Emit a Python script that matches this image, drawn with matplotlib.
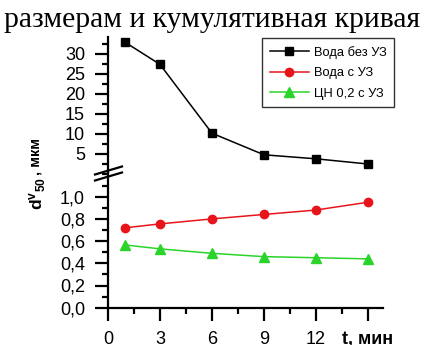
import matplotlib
matplotlib.use("Agg")
import matplotlib.pyplot as plt
from matplotlib.ticker import MultipleLocator, FuncFormatter
from matplotlib.lines import Line2D

plt.rcParams['font.family'] = ['Liberation Sans', 'DejaVu Sans']
plt.rcParams['mathtext.fontset'] = 'custom'
plt.rcParams['mathtext.rm'] = 'Liberation Sans'
plt.rcParams['mathtext.bf'] = 'Liberation Sans:bold'
plt.rcParams['mathtext.it'] = 'Liberation Sans:italic'

title = "размерам и кумулятивная кривая"
t = [1, 3, 6, 9, 12, 15]
water_no_us = [32.9, 27.4, 10.2, 4.8, 3.8, 2.5]
water_us = [0.72, 0.755, 0.80, 0.84, 0.88, 0.95]
cn_us = [0.565, 0.53, 0.49, 0.46, 0.45, 0.44]
labels = ["Вода без УЗ", "Вода с УЗ", "ЦН 0,2 с УЗ"]
xticks = [0, 3, 6, 9, 12, 15]
xticklabels = ["0", "3", "6", "9", "12", "t, мин"]

W, H = 425, 345
fig = plt.figure(figsize=(W / 100, H / 100), dpi=100)

def fx(px):
    return px / W

def fy(py):
    return 1 - py / H

left, right = fx(108), fx(383)
y_break = 173.5
ax_lo = fig.add_axes([left, fy(307.7), right - left, fy(y_break) - fy(307.7)])
ax_hi = fig.add_axes([left, fy(y_break), right - left, fy(37) - fy(y_break)])

black = '#000000'
red = '#e8141c'
green = '#2ad42a'
lw = 1.1
ms = 6

ax_hi.plot(t, water_no_us, '-s', color=black, lw=lw, ms=ms, label=labels[0])
ax_lo.plot(t, water_us, '-o', color=red, lw=lw, ms=ms, label=labels[1])
ax_lo.plot(t, cn_us, '-^', color=green, lw=lw, ms=ms + 0.5, label=labels[2])

xlim = (0, 15.87)
for ax in (ax_lo, ax_hi):
    ax.set_xlim(*xlim)
    for s in ('top', 'right'):
        ax.spines[s].set_visible(False)
    ax.spines['left'].set_linewidth(1.6)
    ax.spines['bottom'].set_linewidth(1.6)
    ax.tick_params(axis='both', which='major', length=9.5, width=1.6,
                   labelsize=13, pad=7, direction='out')
    ax.tick_params(axis='both', which='minor', length=4.5, width=1.6,
                   direction='out')
    ax.patch.set_alpha(0)

ax_hi.spines['bottom'].set_visible(False)
ax_hi.tick_params(axis='x', which='both', bottom=False, labelbottom=False)
ax_hi.set_ylim((174 - y_break) / 4.0, 34.25)
ax_hi.yaxis.set_minor_locator(MultipleLocator(2.5))
ax_hi.set_yticks([5, 10, 15, 20, 25, 30])

ax_lo.set_ylim(0, (307.7 - y_break) / 111.0)
ax_lo.set_yticks([0.0, 0.2, 0.4, 0.6, 0.8, 1.0])
ax_lo.yaxis.set_minor_locator(MultipleLocator(0.1))
ax_lo.yaxis.set_major_formatter(FuncFormatter(lambda v, p: f"{v:.1f}".replace('.', ',')))
ax_lo.set_xticks(xticks)
ax_lo.set_xticklabels(xticklabels)
ax_lo.xaxis.set_minor_locator(MultipleLocator(1.5))
ax_lo.get_xticklabels()[-1].set_fontweight('bold')

# break marks
for py in (170.5, 176.5):
    fig.add_artist(Line2D([fx(95), fx(122)], [fy(py + 4), fy(py - 4)],
                          transform=fig.transFigure, color='black', lw=1.6))

# legend
h1, l1 = ax_hi.get_legend_handles_labels()
h2, l2 = ax_lo.get_legend_handles_labels()
leg = fig.legend(h1 + h2, l1 + l2, loc='upper left',
                 bbox_to_anchor=(fx(262), fy(38)), fontsize=9.3,
                 frameon=True, fancybox=False, edgecolor='black',
                 handlelength=3.0, borderpad=0.6, labelspacing=0.65,
                 handletextpad=0.4, borderaxespad=0)
leg.get_frame().set_linewidth(1.0)

# y label (two pieces: symbol and unit)
fig.text(fx(43), fy(210), r'$\mathbf{d}^{\mathbf{v}}{}_{\mathbf{50}}$',
         rotation=90, rotation_mode='anchor', ha='left', va='baseline',
         fontsize=12.5, fontweight='bold')
fig.text(fx(40), fy(138), ', мкм',
         rotation=90, rotation_mode='anchor', ha='right', va='baseline',
         fontsize=10.5, fontweight='bold')

# title
fig.text(0.5, fy(27), title, ha='center', va='baseline',
         fontsize=21.3, family=['Liberation Serif', 'DejaVu Serif'])

fig.savefig('out.png', dpi=100)
